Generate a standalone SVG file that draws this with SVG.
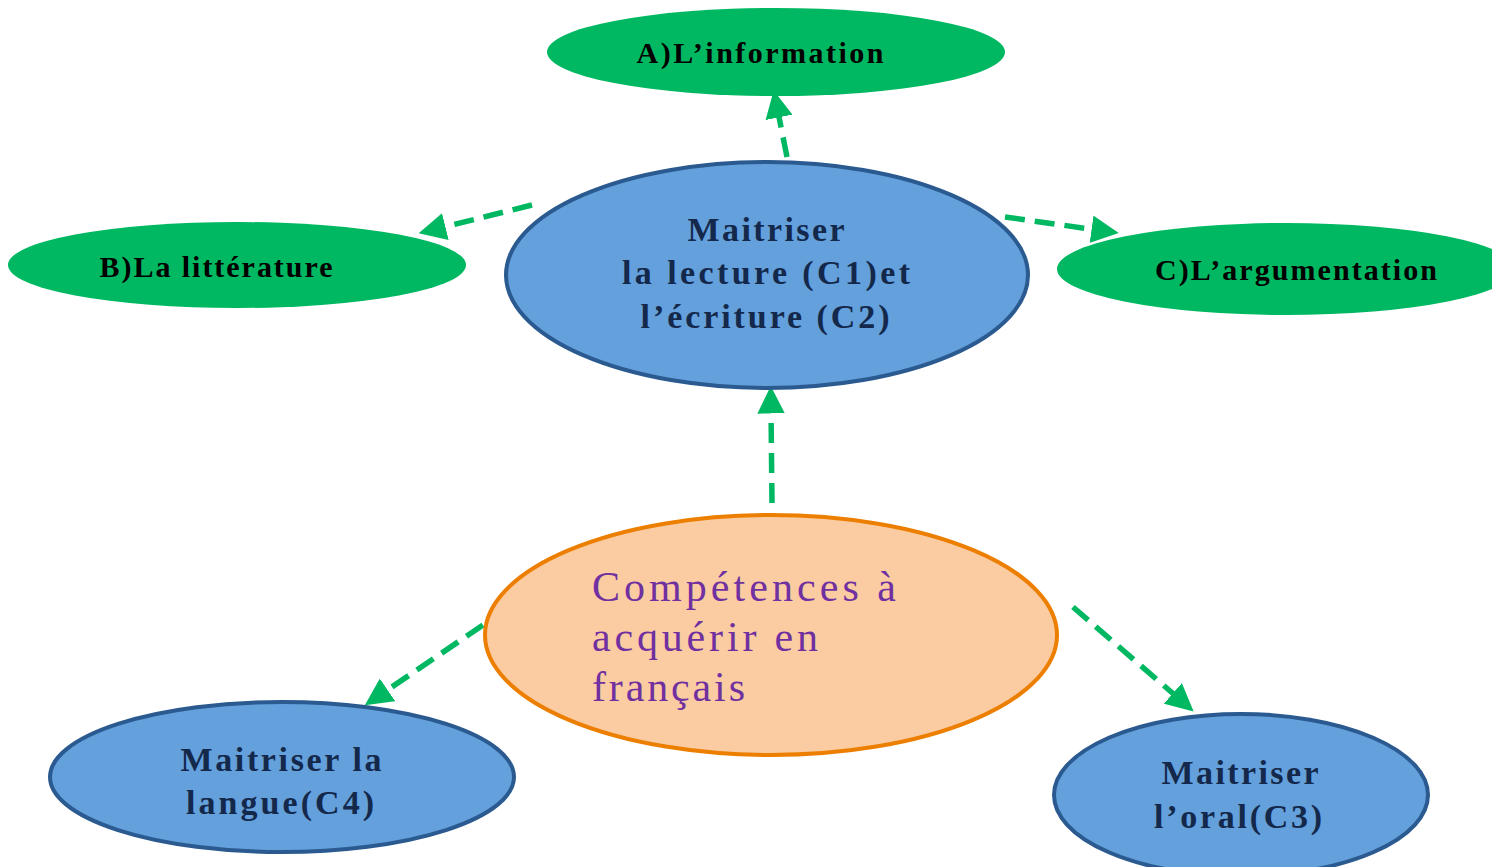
<svg xmlns="http://www.w3.org/2000/svg" width="1492" height="867" viewBox="0 0 1492 867">
<style>
.green{fill:#00B862}
.blue{fill:#63A0DC;stroke:#2A5A8F;stroke-width:4}
.orange{fill:#FBCBA2;stroke:#ED7F00;stroke-width:4}
.gt{font-family:"Liberation Serif",serif;font-weight:bold;font-size:30px;fill:#000;text-anchor:middle}
.bt{font-family:"Liberation Serif",serif;font-weight:bold;font-size:34px;fill:#14284B;text-anchor:middle}
.ot{font-family:"Liberation Serif",serif;font-size:42px;fill:#7030A0}
.conn{stroke:#00B862;stroke-width:5.5;stroke-dasharray:20 10;fill:none}
</style>
<defs>
<marker id="ah" markerWidth="5" markerHeight="5" refX="1" refY="2.5" orient="auto" markerUnits="strokeWidth">
<path d="M0,0 L5,2.5 L0,5 Z" fill="#00B862"/>
</marker>
</defs>
<g id="connectors">
<path class="conn" d="M772,503 L771,408" marker-end="url(#ah)"/>
<path class="conn" d="M787,157 L778,112" marker-end="url(#ah)"/>
<path class="conn" d="M532,205 L440,228" marker-end="url(#ah)"/>
<path class="conn" d="M1005,217 L1097,230" marker-end="url(#ah)"/>
<path class="conn" d="M483,625 L383,693" marker-end="url(#ah)"/>
<path class="conn" d="M1073,607 L1177,697" marker-end="url(#ah)"/>
</g>
<g id="nodeA">
<ellipse class="green" cx="776" cy="52" rx="229" ry="44"/>
<text class="gt" x="760" y="63" textLength="247" lengthAdjust="spacing">A)L’information</text>
</g>
<g id="nodeB">
<ellipse class="green" cx="237" cy="265" rx="229" ry="43"/>
<text class="gt" x="216" y="277" textLength="233" lengthAdjust="spacing">B)La littérature</text>
</g>
<g id="nodeC">
<ellipse class="green" cx="1286" cy="269" rx="229" ry="46"/>
<text class="gt" x="1296" y="280" textLength="282" lengthAdjust="spacing">C)L’argumentation</text>
</g>
<g id="nodeMain">
<ellipse class="blue" cx="767" cy="275" rx="261" ry="113"/>
<text class="bt" x="766" y="241" textLength="157" lengthAdjust="spacing">Maitriser</text>
<text class="bt" x="766" y="284" textLength="288" lengthAdjust="spacing">la lecture (C1)et</text>
<text class="bt" x="765" y="328" textLength="249" lengthAdjust="spacing">l’écriture (C2)</text>
</g>
<g id="nodeRoot">
<ellipse class="orange" cx="771" cy="635" rx="286" ry="120"/>
<text class="ot" x="592" y="601" textLength="304" lengthAdjust="spacing">Compétences à</text>
<text class="ot" x="592" y="651" textLength="226" lengthAdjust="spacing">acquérir en</text>
<text class="ot" x="592" y="701" textLength="153" lengthAdjust="spacing">français</text>
</g>
<g id="nodeLangue">
<ellipse class="blue" cx="282" cy="777" rx="232" ry="75"/>
<text class="bt" x="281" y="771" textLength="201" lengthAdjust="spacing">Maitriser la</text>
<text class="bt" x="280" y="814" textLength="188" lengthAdjust="spacing">langue(C4)</text>
</g>
<g id="nodeOral">
<ellipse class="blue" cx="1241" cy="795" rx="187" ry="81"/>
<text class="bt" x="1240" y="784" textLength="157" lengthAdjust="spacing">Maitriser</text>
<text class="bt" x="1238" y="828" textLength="168" lengthAdjust="spacing">l’oral(C3)</text>
</g>
</svg>
